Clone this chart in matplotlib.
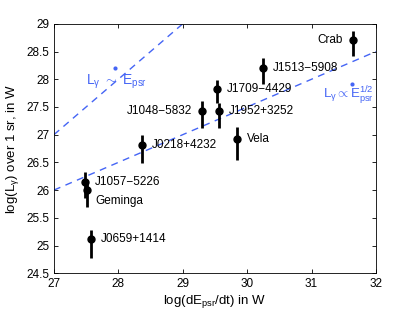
import matplotlib
matplotlib.use("Agg")
import matplotlib.pyplot as plt
import numpy as np

plt.rcParams['font.family'] = ['Liberation Sans', 'DejaVu Sans']
plt.rcParams['mathtext.fontset'] = 'custom'
plt.rcParams['mathtext.rm'] = 'Liberation Sans'
plt.rcParams['mathtext.it'] = 'Liberation Sans'

# pulsar data
names = ['Crab', 'J1513\u22125908', 'J1709\u22124429', 'J1952+3252', 'Vela',
         'J1048\u22125832', 'J0218+4232', 'J1057\u22125226', 'Geminga', 'J0659+1414']
log_edot = [31.64, 30.25, 29.53, 29.57, 29.84, 29.30, 28.37, 27.48, 27.52, 27.57]
log_lgam = [28.71, 28.21, 27.82, 27.42, 26.93, 27.43, 26.82, 26.14, 26.00, 25.11]
err_up = [0.16, 0.18, 0.17, 0.16, 0.20, 0.18, 0.17, 0.18, 0.15, 0.17]
err_lo = [0.30, 0.30, 0.24, 0.30, 0.39, 0.31, 0.34, 0.29, 0.30, 0.34]

# label offsets (points)
offsets = [(-7, 0, 'right'), (7, 0, 'left'), (7, 0, 'left'), (7, 0, 'left'), (7, 0, 'left'),
           (-7, 0, 'right'), (7, 0, 'left'), (7, 0, 'left'), (6, -8, 'left'), (7, 0, 'left')]

fig = plt.figure(figsize=(4.15, 3.13), dpi=100)
ax = fig.add_axes([0.130, 0.127, 0.776, 0.797])

blue = '#4565f5'
x = np.array([27, 32])
ax.plot(x, x, '--', color=blue, lw=1.0, dashes=(5, 4))
ax.plot(x, 0.5 * x + 12.5, '--', color=blue, lw=1.0, dashes=(5, 4))

ax.errorbar(log_edot, log_lgam, yerr=[err_lo, err_up], fmt='o', color='black',
            ms=5, elinewidth=2, capsize=0)

for n, xe, yl, (dx, dy, ha) in zip(names, log_edot, log_lgam, offsets):
    ax.annotate(n, (xe, yl), xytext=(dx, dy), textcoords='offset points',
                ha=ha, va='center', fontsize=8.5)

# power-law labels, with a bold dot over the E
ax.text(27.5, 27.95, r'L$_\gamma$ $\sim$ E$_{\mathregular{psr}}$', color=blue,
        fontsize=10, ha='left', va='center')
ax.text(31.97, 27.72, r'L$_\gamma\propto$E$_{\mathregular{psr}}^{\mathregular{1/2}}$',
        color=blue, fontsize=9.5, ha='right', va='center')
ax.plot([27.95, 31.63], [28.2, 27.92], 'o', color=blue, ms=3, mec='none')

ax.set_xlim(27, 32)
ax.set_ylim(24.5, 29)
ax.set_xticks([27, 28, 29, 30, 31, 32])
ax.set_yticks(np.arange(24.5, 29.01, 0.5))
ax.set_yticklabels(['24.5', '25', '25.5', '26', '26.5', '27', '27.5', '28', '28.5', '29'])
ax.tick_params(direction='in', top=True, right=True, length=3, labelsize=8.5, width=0.6)
for s in ax.spines.values():
    s.set_linewidth(0.6)

ax.set_xlabel(r'log(dE$_{\mathregular{psr}}$/dt) in W', fontsize=9.5, labelpad=2)
ax.set_ylabel(r'log(L$_\gamma$) over 1 sr, in W', fontsize=9.5, labelpad=4)

plt.savefig('out.png', dpi=100)
